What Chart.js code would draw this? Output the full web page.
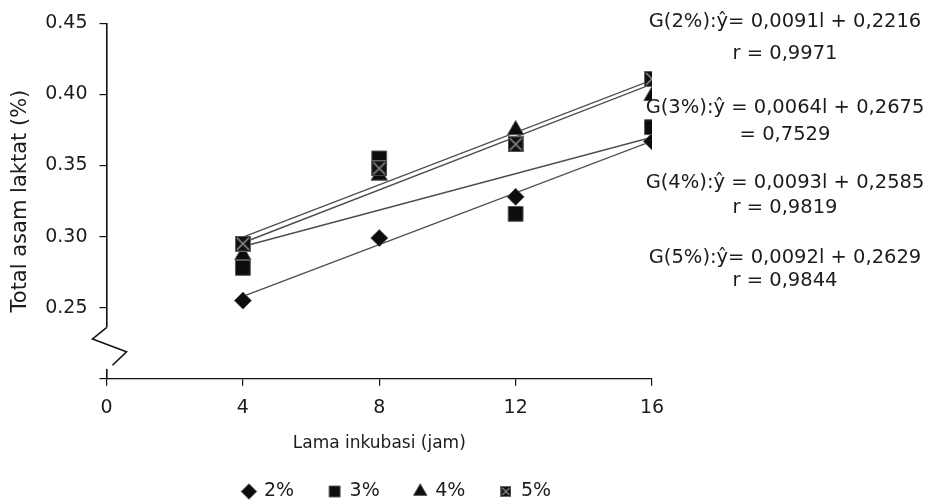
<!DOCTYPE html>
<html>
<head>
<meta charset="utf-8">
<title>Total asam laktat</title>
<script src="https://cdn.jsdelivr.net/npm/chart.js@4.4.1/dist/chart.umd.min.js"></script>
<style>
  html, body { margin: 0; padding: 0; background: #fff; }
  #box { width: 931px; height: 503px; }
</style>
</head>
<body>
<div id="box"><canvas id="chart" width="931" height="503"></canvas></div>
<script>
// data
var hours = [4, 8, 12, 16];
var seriesNames = ['2%', '3%', '4%', '5%'];
var val2 = [0.255, 0.299, 0.328, 0.367];
var val3 = [0.278, 0.355, 0.316, 0.377];
var val4 = [0.287, 0.343, 0.375, 0.399];
var val5 = [0.295, 0.348, 0.365, 0.411];
// regression lines as printed on the chart
var slopes = [0.0091, 0.0064, 0.0093, 0.0092];
var intercepts = [0.2216, 0.2675, 0.2585, 0.2629];
var eqLines = ['G(2%):ŷ= 0,0091l + 0,2216', 'G(3%):ŷ = 0,0064l + 0,2675', 'G(4%):ŷ = 0,0093l + 0,2585', 'G(5%):ŷ= 0,0092l + 0,2629'];
var rLines = ['r = 0,9971', '= 0,7529', 'r = 0,9819', 'r = 0,9844'];
var xTicks = [0, 4, 8, 12, 16];
var yTicks = [0.20, 0.25, 0.30, 0.35, 0.40, 0.45];

var FONT = 'DejaVu Sans';
var TXT = '#1c1c1c';

// square with a cross for the 5% series
function crossBox(size) {
  var c = document.createElement('canvas');
  c.width = size; c.height = size;
  var g = c.getContext('2d');
  g.fillStyle = '#111';
  g.fillRect(0.5, 0.5, size - 1, size - 1);
  g.strokeStyle = '#666';
  g.lineWidth = 1;
  g.strokeRect(0.5, 0.5, size - 1, size - 1);
  g.strokeStyle = '#8a8a8a';
  g.lineWidth = size > 12 ? 1.6 : 1.2;
  g.beginPath();
  g.moveTo(2, 2); g.lineTo(size - 2, size - 2);
  g.moveTo(size - 2, 2); g.lineTo(2, size - 2);
  g.stroke();
  return c;
}
var crossBig = crossBox(16);
var crossSmall = crossBox(11);

function pts(vals) {
  return hours.map(function (h, i) { return { x: h, y: vals[i] }; });
}
function trend(k) {
  return [{ x: 4, y: slopes[k] * 4 + intercepts[k] }, { x: 16, y: slopes[k] * 16 + intercepts[k] }];
}

var markerBase = { showLine: false, backgroundColor: '#0d0d0d', borderColor: '#5a5a5a', borderWidth: 1 };
var datasets = [
  Object.assign({ label: seriesNames[0], data: pts(val2), pointStyle: 'rectRot', pointRadius: 8.5, order: 4 }, markerBase),
  Object.assign({ label: seriesNames[1], data: pts(val3), pointStyle: 'rect', pointRadius: 10.5, order: 3 }, markerBase),
  Object.assign({ label: seriesNames[2], data: pts(val4), pointStyle: 'triangle', pointRadius: 9.5, order: 2 }, markerBase),
  Object.assign({ label: seriesNames[3], data: pts(val5), pointStyle: crossBig, pointRadius: 8, order: 1 }, markerBase)
];
for (var k = 0; k < 4; k++) {
  datasets.push({
    label: 'trend ' + seriesNames[k],
    data: trend(k),
    showLine: true,
    borderColor: '#4d4d4d',
    borderWidth: 1.4,
    pointRadius: 0,
    fill: false,
    order: 10
  });
}

// broken y axis between 0.20 and 0.25
var axisBreak = {
  id: 'axisBreak',
  afterDraw: function (chart) {
    var ctx = chart.ctx, ys = chart.scales.y;
    var x0 = chart.chartArea.left;
    var top = ys.getPixelForValue(0.236), bot = ys.getPixelForValue(0.207);
    ctx.save();
    ctx.fillStyle = '#fff';
    ctx.fillRect(x0 - 2, top, 4, bot - top);
    ctx.strokeStyle = '#111';
    ctx.lineWidth = 1.6;
    ctx.beginPath();
    ctx.moveTo(x0, top);
    ctx.lineTo(x0 - 14, ys.getPixelForValue(0.228));
    ctx.lineTo(x0 + 20, ys.getPixelForValue(0.219));
    ctx.lineTo(x0 + 6, ys.getPixelForValue(0.2095));
    ctx.stroke();
    ctx.restore();
  }
};

// equations printed at the right
var equations = {
  id: 'equations',
  afterDraw: function (chart) {
    var ctx = chart.ctx;
    var cx = 785;
    var eqY = [22, 108, 183, 258];
    var rY = [54, 135, 208, 281];
    ctx.save();
    ctx.fillStyle = TXT;
    ctx.font = '19.5px "' + FONT + '"';
    ctx.textAlign = 'center';
    ctx.textBaseline = 'middle';
    for (var i = 0; i < eqLines.length; i++) {
      ctx.fillText(eqLines[i], cx, eqY[i]);
      ctx.fillText(rLines[i], cx, rY[i]);
    }
    ctx.restore();
  }
};

// move legend a little to the right, like the original
var legendShift = {
  id: 'legendShift',
  afterLayout: function (chart) {
    if (chart.legend) {
      chart.legend.left += 18;
      chart.legend.right += 18;
    }
  }
};

new Chart(document.getElementById('chart'), {
  type: 'scatter',
  data: { datasets: datasets },
  plugins: [axisBreak, equations, legendShift],
  options: {
    responsive: false,
    animation: false,
    layout: { padding: { left: 8, right: 279, top: 7, bottom: -8 } },
    scales: {
      x: {
        type: 'linear',
        min: 0,
        max: 16,
        afterBuildTicks: function (s) { s.ticks = xTicks.map(function (v) { return { value: v }; }); },
        grid: { display: true, drawOnChartArea: false, drawTicks: true, tickLength: 7, color: '#111', lineWidth: 1.2 },
        border: { display: true, color: '#111', width: 1.2 },
        ticks: { color: TXT, font: { family: FONT, size: 19 }, padding: 11, maxRotation: 0 },
        title: { display: true, text: 'Lama inkubasi (jam)', color: TXT, font: { family: FONT, size: 17 }, padding: { top: 3, bottom: -7 } }
      },
      y: {
        type: 'linear',
        min: 0.2,
        max: 0.45,
        afterBuildTicks: function (s) { s.ticks = yTicks.map(function (v) { return { value: v }; }); },
        grid: { display: true, drawOnChartArea: false, drawTicks: true, tickLength: 7, color: '#111', lineWidth: 1.2 },
        border: { display: true, color: '#111', width: 1.6 },
        ticks: {
          color: TXT,
          font: { family: FONT, size: 19 },
          padding: 12,
          callback: function (v) { return v < 0.24 ? '' : v.toFixed(2); }
        },
        title: { display: true, text: 'Total asam laktat (%)', color: TXT, font: { family: FONT, size: 21 }, padding: { top: 0, bottom: 0 } }
      }
    },
    plugins: {
      tooltip: { enabled: false },
      legend: {
        position: 'bottom',
        fullSize: false,
        labels: {
          usePointStyle: true,
          boxWidth: 11,
          boxHeight: 11,
          padding: 35,
          color: TXT,
          font: { family: FONT, size: 19 },
          generateLabels: function (chart) {
            var items = Chart.defaults.plugins.legend.labels.generateLabels(chart);
            items = items.filter(function (it) { return it.datasetIndex < 4; });
            items.sort(function (a, b) { return a.datasetIndex - b.datasetIndex; });
            items.forEach(function (it) { if (it.datasetIndex === 3) it.pointStyle = crossSmall; });
            return items;
          }
        }
      }
    }
  }
});
</script>
</body>
</html>
